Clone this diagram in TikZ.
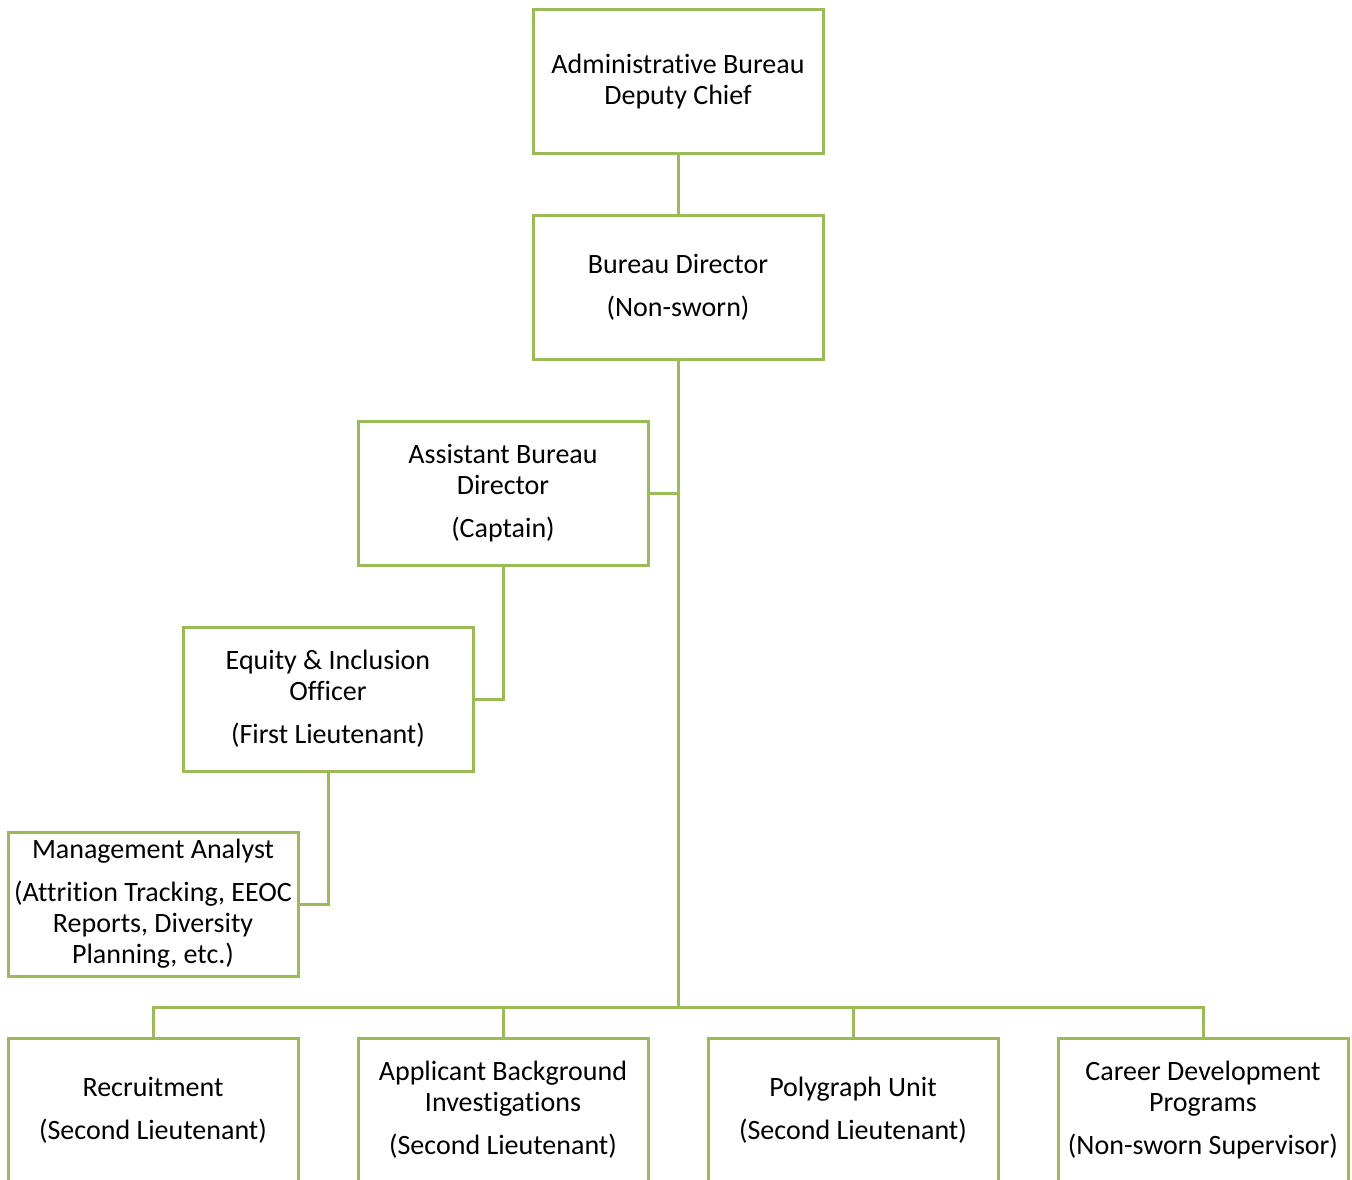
\documentclass[tikz,border=0pt]{standalone}
\usepackage{fontspec}
\setmainfont{Carlito}[Ligatures={NoCommon}]
\begin{document}
\begin{tikzpicture}[x=1pt,y=-1pt,
  unit/.style={draw=boxgreen, line width=3pt, fill=white, minimum width=290pt, minimum height=144pt,
    inner sep=0pt, align=center, font=\fontsize{28}{31}\selectfont, text=black},
  link/.style={draw=boxgreen, line width=3pt}]
\definecolor{boxgreen}{HTML}{9BBB59}
\clip (0,0) rectangle (1352,1180);
\fill[white] (0,0) rectangle (1352,1180);
% boxes
\node[unit] (dep) at (678,82) {Administrative Bureau\\Deputy Chief};
\node[unit] (dir) at (678,287) {Bureau Director\\[12pt](Non-sworn)};
\node[unit] (abd) at (503,493) {Assistant Bureau\\Director\\[12pt](Captain)};
\node[unit] (eio) at (328,699) {Equity \& Inclusion\\Officer\\[12pt](First Lieutenant)};
\node[unit] (man) at (153,904) {Management Analyst\\[12pt](Attrition Tracking, EEOC\\Reports, Diversity\\Planning, etc.)};
\node[unit] (rec) at (153,1110) {Recruitment\\[12pt](Second Lieutenant)};
\node[unit] (abi) at (503,1110) {Applicant Background\\Investigations\\[12pt](Second Lieutenant)};
\node[unit] (pol) at (853,1110) {Polygraph Unit\\[12pt](Second Lieutenant)};
\node[unit] (car) at (1203,1110) {Career Development\\Programs\\[12pt](Non-sworn Supervisor)};
% connectors
\coordinate (bus) at (678,1007);
\draw[link] (dep.south) -- (dir.north);
\draw[link] (dir.south) -- (bus);
\draw[link] (abd.east) -- (abd.east -| dir.south);
\draw[link] (abd.south) |- (eio.east);
\draw[link] (eio.south) |- (man.east);
\draw[link] (rec.north) |- (car.north |- bus) -- (car.north);
\draw[link] (abi.north) -- (abi.north |- bus);
\draw[link] (pol.north) -- (pol.north |- bus);
\end{tikzpicture}
\end{document}
